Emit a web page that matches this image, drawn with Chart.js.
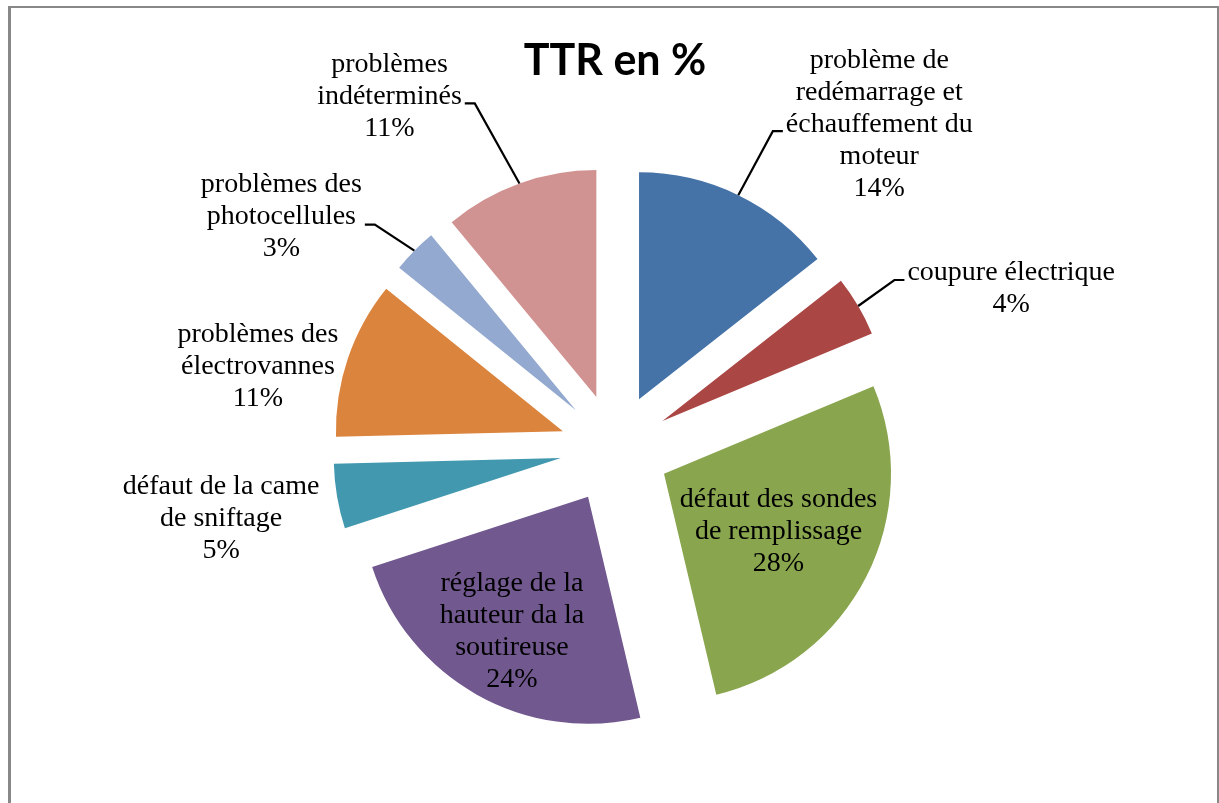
<!DOCTYPE html>
<html lang="fr">
<head>
<meta charset="utf-8">
<title>TTR en %</title>
<script src="https://cdn.jsdelivr.net/npm/chart.js@4.4.0/dist/chart.umd.min.js"></script>
<style>
  html, body { margin: 0; padding: 0; background: #fff; }
  #cadre { position: relative; width: 1219px; height: 803px; overflow: hidden; }
  #bord { position: absolute; left: 8px; top: 6px; width: 1206px; height: 840px; border: 2px solid #888; border-left-width: 3px; }
  canvas { position: absolute; left: 0; top: 0; }
</style>
</head>
<body>
<div id="cadre">
  <div id="bord"></div>
  <canvas id="grafico_ttr" width="1219" height="811"></canvas>
</div>
<script>
// Dados do gráfico (TTR en %), no sentido horário a partir do topo
const categorias = [
  ['problème de', 'redémarrage et', 'échauffement du', 'moteur'],
  ['coupure électrique'],
  ['défaut des sondes', 'de remplissage'],
  ['réglage de la', 'hauteur da la', 'soutireuse'],
  ['défaut de la came', 'de sniftage'],
  ['problèmes des', 'électrovannes'],
  ['problèmes des', 'photocellules'],
  ['problèmes', 'indéterminés']
];
// valores estimados pelos ângulos das fatias (o rótulo mostra o valor arredondado)
const valores = [14.4, 4.3, 27.6, 23.7, 4.6, 11.2, 3.2, 11.0];
const cores = ['#4572A7', '#AA4643', '#89A54E', '#71588F', '#4198AF', '#DB843D', '#93A9CF', '#D19392'];

// Posição dos rótulos: dentro da fatia (fração do raio) ou fora (deslocamento a partir da borda)
const posRotulos = [
  { dx: 141, dy: -71, linha: true, ty: 7 },
  { dx: 153, dy: -17, linha: true, ty: -9 },
  { dentro: 0.566 },
  { dentro: 0.684 },
  { dx: -116, dy: 22 },
  { dx: -90, dy: 8 },
  { dx: -133, dy: -34, linha: true, ty: 8 },
  { dx: -130, dy: -87, linha: true, ty: 7 }
];

const ECLATEMENT = 55; // distância da explosão das fatias
const INTERLIGNE = 32;
const fonteRotulo = '28px "Liberation Serif", "Times New Roman", serif';

// Plugin: explode as fatias e desenha os rótulos com linhas de chamada
const pluginPizza = {
  id: 'pluginPizza',
  beforeDatasetsDraw(chart) {
    const area = chart.chartArea;
    const cx = (area.left + area.right) / 2;
    const cy = (area.top + area.bottom) / 2;
    chart.getDatasetMeta(0).data.forEach(arc => {
      const meio = (arc.startAngle + arc.endAngle) / 2;
      arc.x = cx + Math.cos(meio) * ECLATEMENT;
      arc.y = cy + Math.sin(meio) * ECLATEMENT;
    });
  },
  afterDatasetsDraw(chart) {
    const ctx = chart.ctx;
    ctx.save();
    ctx.font = fonteRotulo;
    ctx.fillStyle = '#000';
    ctx.strokeStyle = '#000';
    ctx.lineWidth = 2.2;
    ctx.textAlign = 'center';
    ctx.textBaseline = 'middle';
    chart.getDatasetMeta(0).data.forEach((arc, i) => {
      const meio = (arc.startAngle + arc.endAngle) / 2;
      const r = arc.outerRadius;
      const bordaX = arc.x + Math.cos(meio) * r;
      const bordaY = arc.y + Math.sin(meio) * r;
      const p = posRotulos[i];
      const linhas = categorias[i].concat(Math.round(valores[i]) + '%');
      let lx, ly;
      if (p.dentro) {
        lx = arc.x + Math.cos(meio) * r * p.dentro;
        ly = arc.y + Math.sin(meio) * r * p.dentro;
      } else {
        lx = bordaX + p.dx;
        ly = bordaY + p.dy;
      }
      const h = INTERLIGNE * linhas.length;
      linhas.forEach((t, k) => {
        ctx.fillText(t, lx, ly - h / 2 + INTERLIGNE * (k + 0.5));
      });
      if (p.linha) {
        const larg = Math.max(...linhas.map(t => ctx.measureText(t).width));
        const lado = lx > bordaX ? -1 : 1;
        const bx = lx + lado * larg / 2;
        const yT = ly + p.ty;
        ctx.beginPath();
        ctx.moveTo(bordaX, bordaY);
        ctx.lineTo(bx + lado * 13, yT);
        ctx.lineTo(bx + lado * 3, yT);
        ctx.stroke();
      }
    });
    ctx.restore();
  }
};

const c_grafico = document.getElementById('grafico_ttr').getContext('2d');
const grafico = new Chart(c_grafico, {
  type: 'pie',
  data: {
    labels: categorias.map(l => l.join(' ')),
    datasets: [{
      data: valores,
      backgroundColor: cores,
      borderWidth: 0
    }]
  },
  options: {
    responsive: false,
    devicePixelRatio: 1,
    animation: false,
    events: [],
    radius: 227,
    layout: {
      padding: { top: 15, left: 11, right: 0, bottom: 0 }
    },
    plugins: {
      legend: { display: false },
      tooltip: { enabled: false },
      title: {
        display: true,
        text: 'TTR en %',
        color: '#000',
        font: { family: 'Lato', size: 43, weight: 'bold' },
        padding: { top: 20, bottom: 0 }
      }
    }
  },
  plugins: [pluginPizza]
});
</script>
</body>
</html>
